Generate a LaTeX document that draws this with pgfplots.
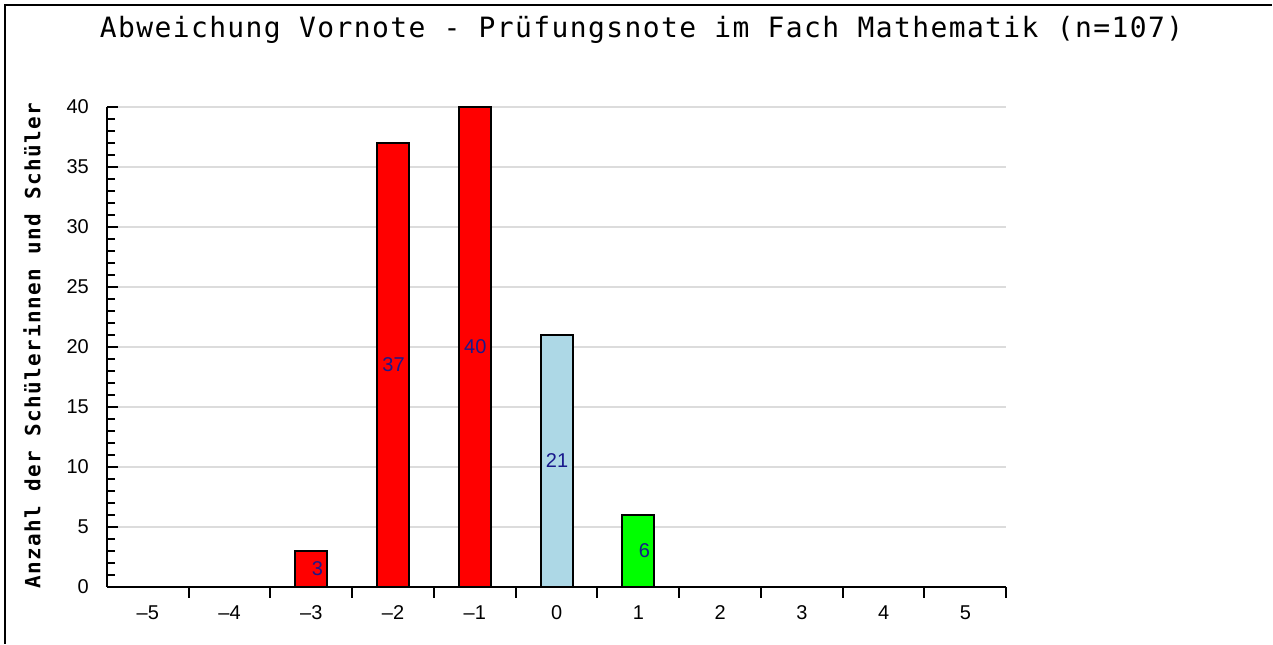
\documentclass[border=0pt]{standalone}
\usepackage{fontspec}
\setmainfont{Liberation Sans}
\newfontfamily\titlefont[LetterSpace=5]{DejaVu Sans Mono}
\newfontfamily\labelfont[LetterSpace=7]{DejaVu Sans Mono}
\usepackage{pgfplots}
\usepackage{pgfplotstable}
\pgfplotsset{compat=1.18}

\definecolor{barred}{RGB}{255,0,0}
\definecolor{barblue}{RGB}{173,216,230}
\definecolor{bargreen}{RGB}{0,255,0}
\definecolor{valtext}{RGB}{25,25,140}
\definecolor{gridgray}{RGB}{220,220,220}

% difference (Vornote - Pruefungsnote) and number of students
\pgfplotstableread{
x n
-3 3
-2 37
-1 40
0 21
1 6
}\counts

\begin{document}
\begin{tikzpicture}
% canvas 1273 x 644 px at 0.5pt per px
\path (0,0) rectangle (636.5pt,322pt);
\draw[line width=1pt] (2.75pt,0) -- (2.75pt,319.25pt) -- (636.5pt,319.25pt);

\node[font=\titlefont\fontsize{14}{16}\selectfont] at (321pt,307pt)
  {Abweichung Vornote - Prüfungsnote im Fach Mathematik (n=107)};
\node[rotate=90, font=\labelfont\bfseries\fontsize{10.5}{12}\selectfont] at (16pt,149pt)
  {Anzahl der Schülerinnen und Schüler};

\begin{axis}[
    at={(53.5pt,28.5pt)}, anchor=south west,
    scale only axis,
    width=450pt, height=240pt,
    xmin=-5.5, xmax=5.5,
    ymin=0, ymax=40,
    axis x line*=bottom,
    axis y line*=left,
    axis line style={line width=1pt, black},
    xtick={-4.5,-3.5,-2.5,-1.5,-0.5,0.5,1.5,2.5,3.5,4.5,5.5},
    xticklabels={},
    extra x ticks={-5,-4,-3,-2,-1,0,1,2,3,4,5},
    extra x tick labels={\textendash5,\textendash4,\textendash3,\textendash2,\textendash1,0,1,2,3,4,5},
    extra x tick style={major tick length=0pt},
    ytick={0,5,10,15,20,25,30,35,40},
    minor y tick num=4,
    tick align=inside,
    major tick length=5.5pt,
    minor tick length=4pt,
    every tick/.style={black, line width=1pt},
    ymajorgrids,
    major grid style={gridgray, line width=1pt},
    tick label style={font=\fontsize{10}{12}\selectfont},
    /pgf/number format/assume math mode=true,
    xticklabel style={yshift=-6pt},
    yticklabel style={xshift=-5.5pt},
    ybar, bar width=16pt, bar shift=0pt,
    clip=false,
]
\addplot[fill=barred, draw=black, line width=1pt] coordinates {(-3,3) (-2,37) (-1,40)};
\addplot[fill=barblue, draw=black, line width=1pt] coordinates {(0,21)};
\addplot[fill=bargreen, draw=black, line width=1pt] coordinates {(1,6)};
% value labels at half bar height
\addplot[draw=none, mark=none, nodes near coords, point meta=explicit,
    every node near coord/.append style={anchor=east, xshift=6pt, text=valtext,
      font=\fontsize{10}{12}\selectfont, inner sep=0pt}]
  table[x=x, y expr=\thisrow{n}/2, meta=n] {\counts};
\end{axis}
\end{tikzpicture}
\end{document}
